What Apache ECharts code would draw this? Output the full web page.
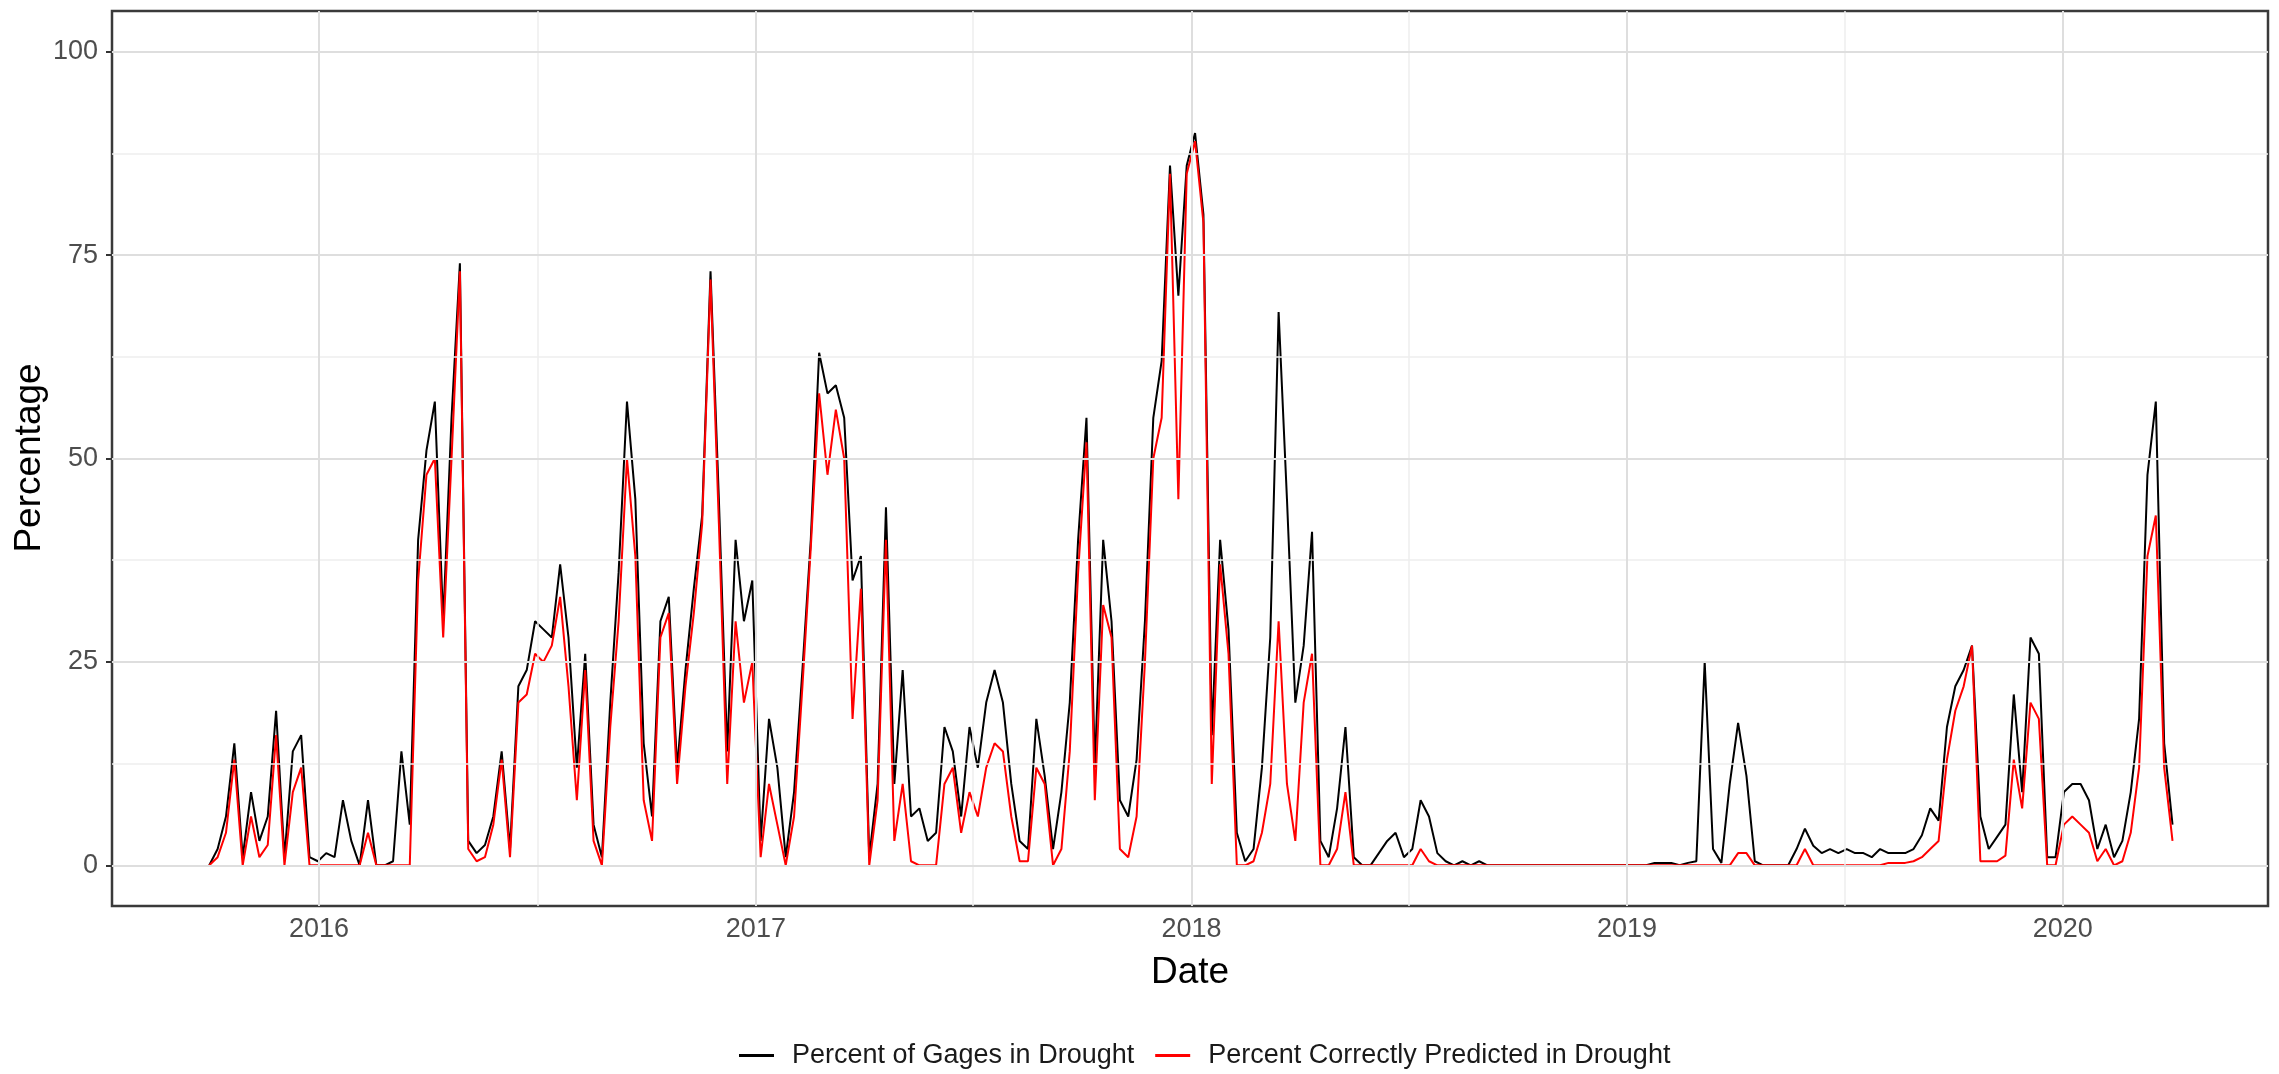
<!DOCTYPE html>
<html>
<head>
<meta charset="utf-8">
<title>Drought gages</title>
<script src="https://cdn.jsdelivr.net/npm/echarts@6/dist/echarts.min.js"></script>
<style>
  html, body { margin: 0; padding: 0; background: #fff; }
  #chart { width: 2279px; height: 1074px; }
</style>
</head>
<body>
<div id="chart"></div>
<script>
// weekly samples, first week starting 2015-10-01
const startDate = [2015, 9, 1]
const stepDays = 7

// Percent of Gages in Drought
const gagesInDrought = [
  0, 2, 6, 15, 1, 9, 3, 6, 19, 1,
  14, 16, 1, 0.5, 1.5, 1, 8, 3, 0, 8,
  0, 0, 0.5, 14, 5, 40, 51, 57, 30, 55,
  74, 3, 1.5, 2.5, 6, 14, 2, 22, 24, 30,
  29, 28, 37, 28, 12, 26, 5, 1, 20, 36,
  57, 45, 15, 6, 30, 33, 12, 24, 34, 43,
  73, 45, 14, 40, 30, 35, 3, 18, 12, 1,
  9, 24, 40, 63, 58, 59, 55, 35, 38, 1,
  10, 44, 10, 24, 6, 7, 3, 4, 17, 14,
  6, 17, 12, 20, 24, 20, 10, 3, 2, 18,
  11, 2, 9, 20, 40, 55, 12, 40, 30, 8,
  6, 13, 30, 55, 62, 86, 70, 86, 90, 80,
  16, 40, 29, 4, 0.5, 2, 12, 28, 68, 45,
  20, 27, 41, 3, 1, 7, 17, 1, 0, 0,
  1.5, 3, 4, 1, 2, 8, 6, 1.5, 0.5, 0,
  0.5, 0, 0.5, 0, 0, 0, 0, 0, 0, 0,
  0, 0, 0, 0, 0, 0, 0, 0, 0, 0,
  0, 0, 0, 0.3, 0.3, 0.3, 0, 0.3, 0.5, 25,
  2, 0.3, 10, 17.5, 11, 0.5, 0, 0, 0, 0,
  2, 4.5, 2.4, 1.5, 2, 1.5, 2, 1.5, 1.5, 1,
  2, 1.5, 1.5, 1.5, 2, 3.7, 7, 5.5, 17, 22,
  24, 27, 6, 2, 3.5, 5, 21, 9, 28, 26,
  1, 1, 9, 10, 10, 8, 2, 5, 1, 3,
  9, 18, 48, 57, 15, 5
]

// Percent Correctly Predicted in Drought
const correctlyPredicted = [
  0, 1, 4, 13, 0, 6, 1, 2.5, 16, 0,
  9, 12, 0, 0, 0, 0, 0, 0, 0, 4,
  0, 0, 0, 0, 0, 35, 48, 50, 28, 50,
  73, 2, 0.5, 1, 5, 13, 1, 20, 21, 26,
  25, 27, 33, 22, 8, 24, 3, 0, 17, 30,
  50, 38, 8, 3, 28, 31, 10, 22, 31, 42,
  72, 42, 10, 30, 20, 25, 1, 10, 5, 0,
  6, 22, 39, 58, 48, 56, 50, 18, 34, 0,
  8, 40, 3, 10, 0.5, 0, 0, 0, 10, 12,
  4, 9, 6, 12, 15, 14, 6, 0.5, 0.5, 12,
  10, 0, 2, 14, 36, 52, 8, 32, 28, 2,
  1, 6, 25, 50, 55, 85, 45, 85, 89, 79,
  10, 37, 26, 0, 0, 0.5, 4, 10, 30, 10,
  3, 20, 26, 0, 0, 2, 9, 0, 0, 0,
  0, 0, 0, 0, 0, 2, 0.5, 0, 0, 0,
  0, 0, 0, 0, 0, 0, 0, 0, 0, 0,
  0, 0, 0, 0, 0, 0, 0, 0, 0, 0,
  0, 0, 0, 0, 0, 0, 0, 0, 0, 0,
  0, 0, 0, 1.5, 1.5, 0, 0, 0, 0, 0,
  0, 2, 0, 0, 0, 0, 0, 0, 0, 0,
  0, 0.3, 0.3, 0.3, 0.5, 1, 2, 3, 13, 19,
  22, 27, 0.5, 0.5, 0.5, 1.2, 13, 7, 20, 18,
  0, 0, 5, 6, 5, 4, 0.5, 2, 0, 0.5,
  4, 12, 38, 43, 12, 3
]

const yearTicks = [2016, 2017, 2018, 2019, 2020]
const yTicks = [0, 25, 50, 75, 100]
const yMinor = [12.5, 37.5, 62.5, 87.5]

const DAY = 86400000
const dates = gagesInDrought.map((_, i) =>
  new Date(startDate[0], startDate[1], startDate[2] + stepDays * i).getTime())

const yearStamps = yearTicks.map(y => new Date(y, 0, 1).getTime())
const midYearStamps = yearTicks.slice(0, -1).map(y => new Date(y, 6, 2).getTime())

const xMin = yearStamps[0] - 173.5 * DAY
const xMax = yearStamps[yearStamps.length - 1] + 172 * DAY

const font = '"Liberation Sans", Arial, sans-serif'
const majorGrid = { color: '#DEDEDE', width: 2, type: 'solid' }
const minorGrid = { color: '#EEEEEE', width: 1.5, type: 'solid' }

const gridLines = [].concat(
  yMinor.map(v => ({ yAxis: v, lineStyle: minorGrid })),
  midYearStamps.map(v => ({ xAxis: v, lineStyle: minorGrid })),
  yTicks.map(v => ({ yAxis: v, lineStyle: majorGrid })),
  yearStamps.map(v => ({ xAxis: v, lineStyle: majorGrid }))
)

const chart = echarts.init(document.getElementById('chart'), null, { renderer: 'canvas' })

chart.setOption({
  animation: false,
  backgroundColor: '#ffffff',
  grid: {
    left: 112, right: 11, top: 11, bottom: 168,
    show: true, borderColor: '#3a3a3a', borderWidth: 2.5, backgroundColor: '#ffffff'
  },
  // dates are kept as timestamps on a plain value axis, labelled by year
  xAxis: {
    type: 'value',
    min: xMin,
    max: xMax,
    axisLine: { show: false },
    axisTick: { show: true, customValues: yearStamps, length: 6, lineStyle: { color: '#333333', width: 2 } },
    axisLabel: {
      customValues: yearStamps,
      formatter: v => String(new Date(v).getFullYear()),
      color: '#4D4D4D', fontSize: 27, fontFamily: font, margin: 10, lineHeight: 27
    },
    splitLine: { show: false }
  },
  yAxis: {
    type: 'value',
    min: -5,
    max: 105,
    axisLine: { show: false },
    axisTick: { show: true, customValues: yTicks, length: 6, lineStyle: { color: '#333333', width: 2 } },
    axisLabel: { customValues: yTicks, color: '#4D4D4D', fontSize: 27, fontFamily: font, margin: 14 },
    splitLine: { show: false }
  },
  legend: {
    data: ['Percent of Gages in Drought', 'Percent Correctly Predicted in Drought'],
    left: 734,
    top: 1037,
    icon: 'rect',
    itemWidth: 35,
    itemHeight: 3,
    itemGap: 21,
    textStyle: { color: '#1a1a1a', fontSize: 27, fontFamily: font, padding: [0, 0, 0, 13] }
  },
  graphic: [
    {
      type: 'text', x: 1190, y: 973,
      style: { text: 'Date', font: '37px ' + font, fill: '#000', align: 'center', verticalAlign: 'middle' }
    },
    {
      type: 'text', x: 30, y: 458, rotation: Math.PI / 2,
      style: { text: 'Percentage', font: '37px ' + font, fill: '#000', align: 'center', verticalAlign: 'middle' }
    }
  ],
  series: [
    {
      name: 'gridlines',
      type: 'line',
      data: [],
      z: 1,
      silent: true,
      markLine: { silent: true, symbol: ['none', 'none'], label: { show: false }, animation: false, data: gridLines }
    },
    {
      name: 'Percent of Gages in Drought',
      type: 'line',
      data: dates.map((d, i) => [d, gagesInDrought[i]]),
      showSymbol: false,
      z: 3,
      color: '#000000',
      lineStyle: { color: '#000000', width: 2 }
    },
    {
      name: 'Percent Correctly Predicted in Drought',
      type: 'line',
      data: dates.map((d, i) => [d, correctlyPredicted[i]]),
      showSymbol: false,
      z: 4,
      color: '#FF0000',
      lineStyle: { color: '#FF0000', width: 2 }
    }
  ]
})
</script>
</body>
</html>
